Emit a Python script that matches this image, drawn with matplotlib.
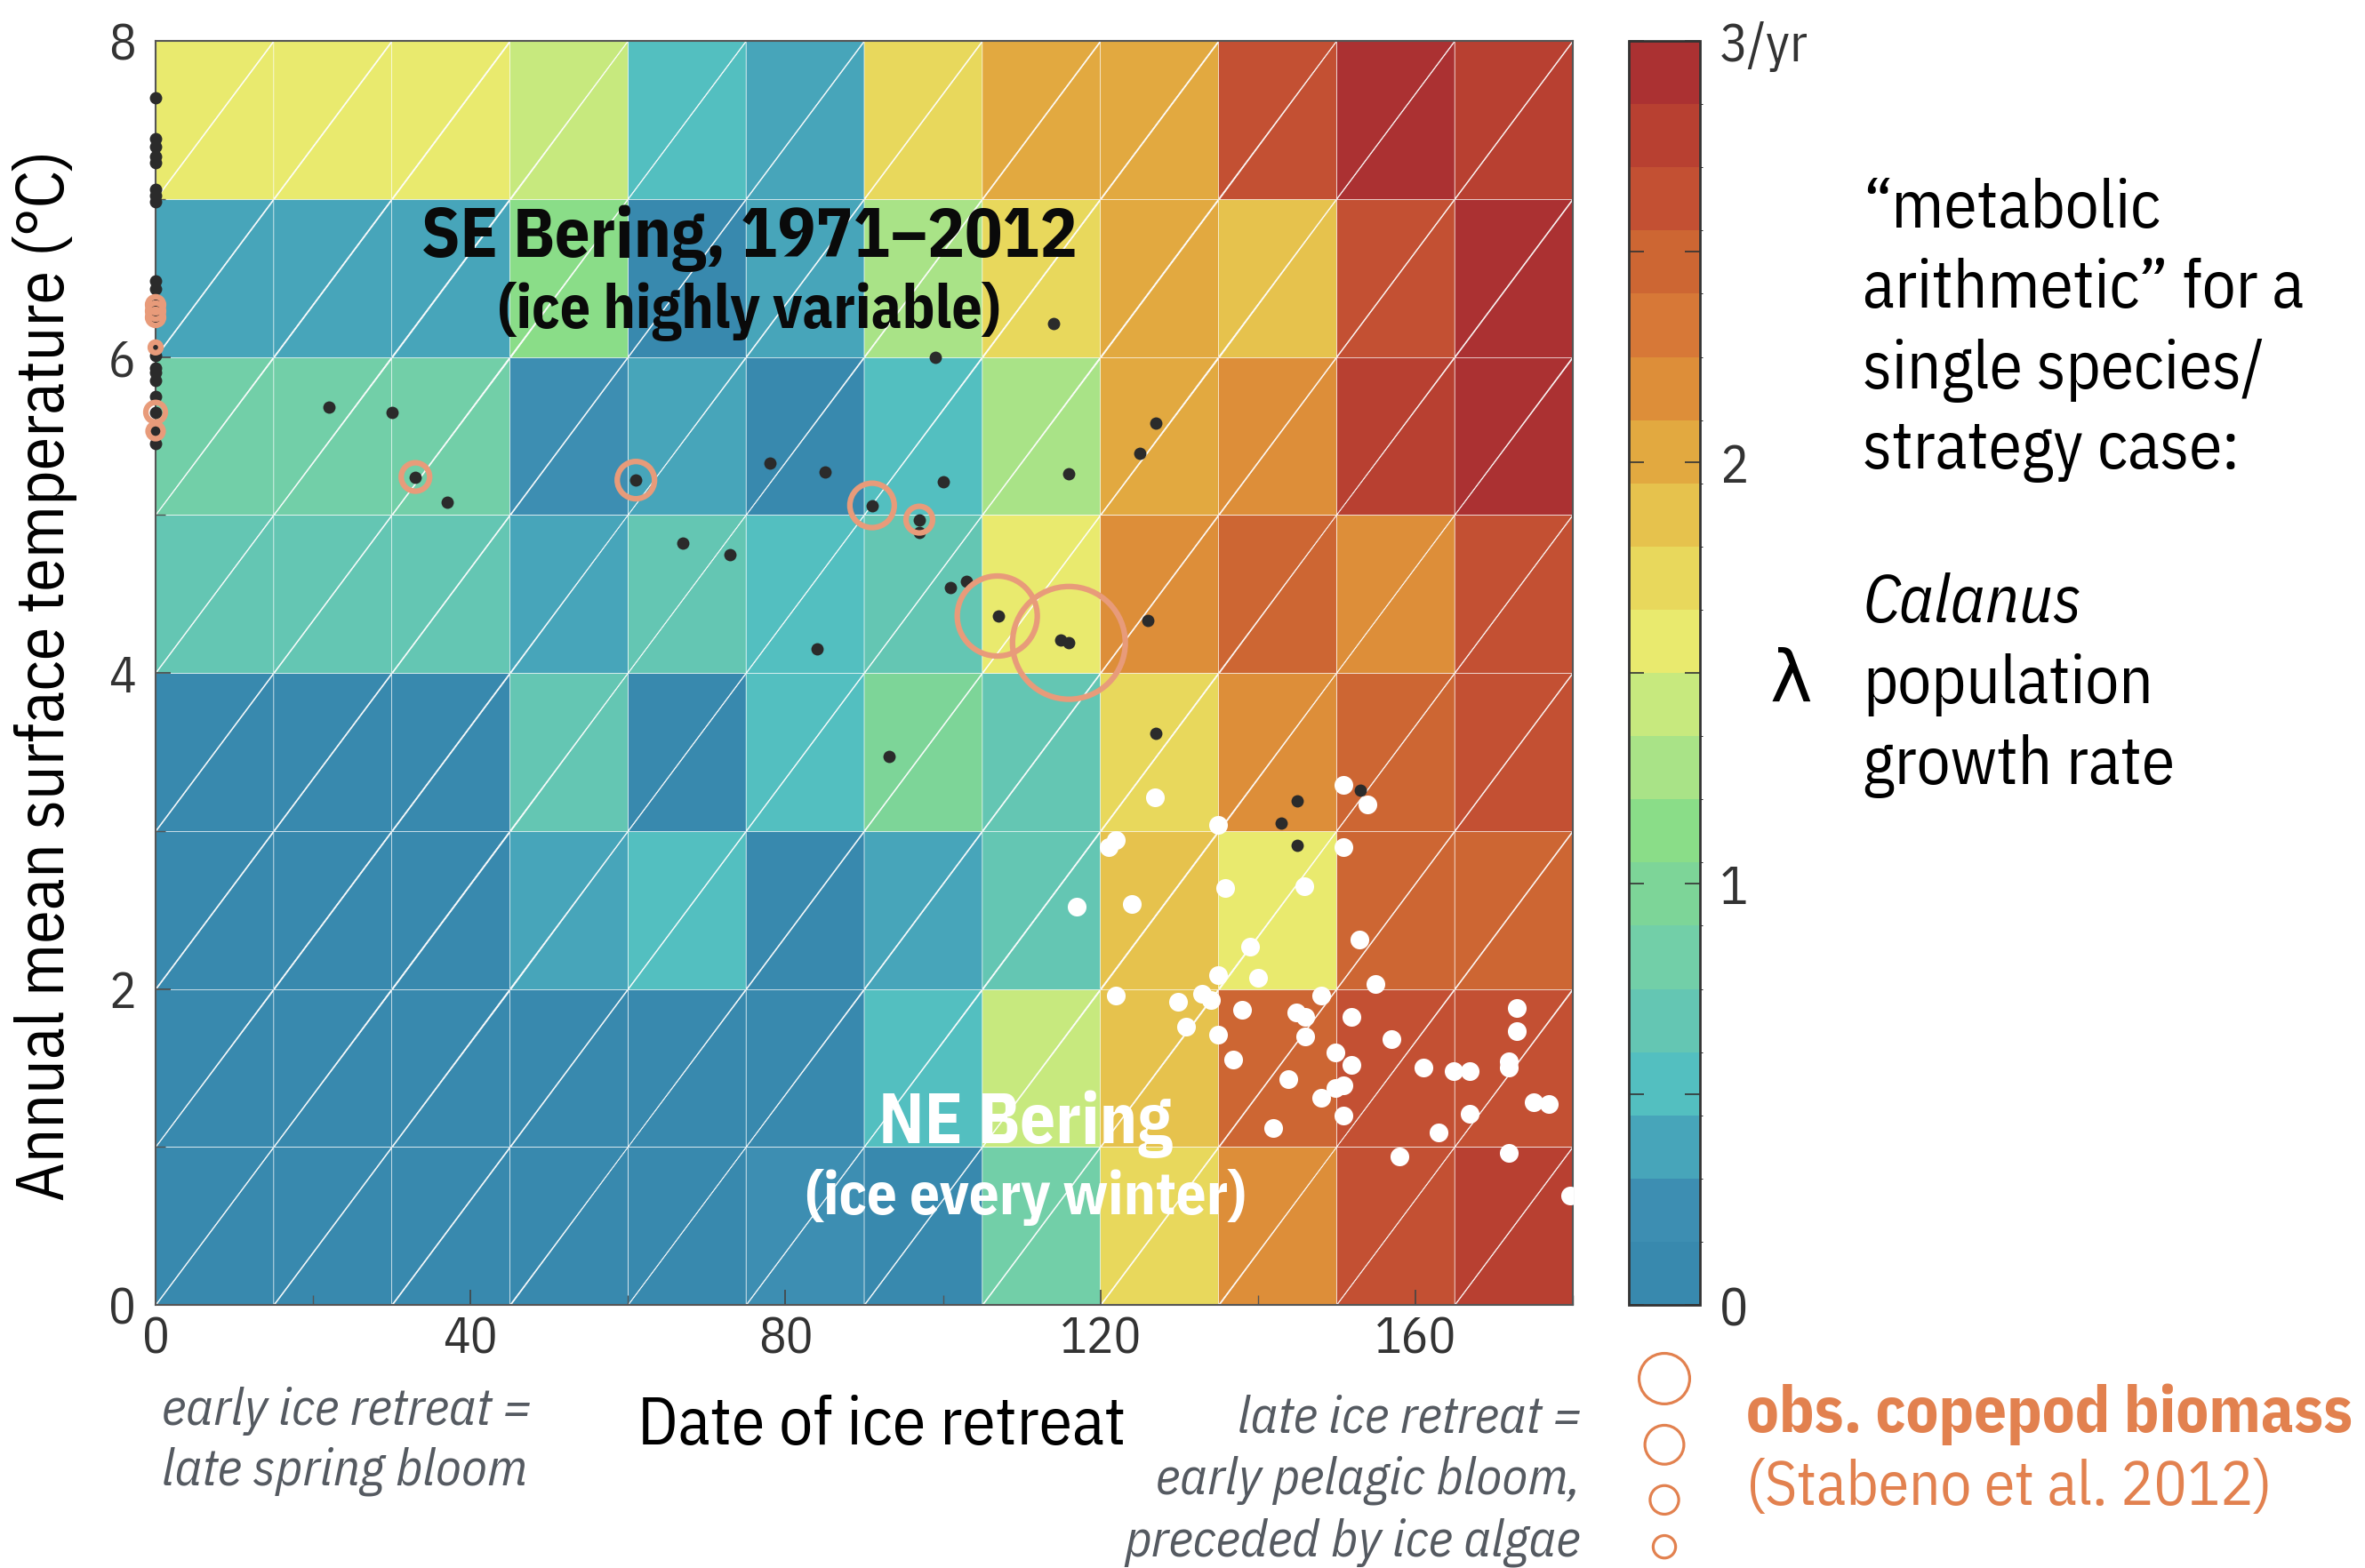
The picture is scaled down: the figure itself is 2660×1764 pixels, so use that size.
import numpy as np
import matplotlib
matplotlib.use("Agg")
import matplotlib.pyplot as plt
import matplotlib.tri as mtri
from matplotlib.colors import ListedColormap, BoundaryNorm
from matplotlib import font_manager as fm

# ---- data ---------------------------------------------------------------
# model growth rate lambda (per yr), rows = temperature bins 0-1 ... 7-8 degC,
# columns = date of ice retreat bins of 15 days (0-15 ... 165-180)
retreat_edges = np.arange(0, 181, 15)
temp_edges = np.arange(0, 9, 1)
lam = np.array([
    [0.08, 0.08, 0.08, 0.08, 0.08, 0.22, 0.08, 0.83, 1.73, 2.18, 2.63, 2.78],
    [0.08, 0.08, 0.08, 0.08, 0.08, 0.08, 0.53, 1.43, 1.88, 2.48, 2.63, 2.63],
    [0.08, 0.08, 0.08, 0.38, 0.53, 0.08, 0.38, 0.68, 1.88, 1.58, 2.48, 2.48],
    [0.08, 0.08, 0.08, 0.68, 0.08, 0.53, 0.98, 0.68, 1.73, 2.18, 2.48, 2.63],
    [0.68, 0.68, 0.68, 0.38, 0.68, 0.53, 0.68, 1.58, 2.18, 2.48, 2.18, 2.63],
    [0.83, 0.83, 0.83, 0.22, 0.38, 0.08, 0.53, 1.28, 2.03, 2.18, 2.78, 2.93],
    [0.38, 0.38, 0.38, 1.13, 0.08, 0.38, 1.28, 1.73, 2.03, 1.88, 2.63, 2.93],
    [1.58, 1.58, 1.58, 1.43, 0.53, 0.38, 1.73, 2.03, 2.03, 2.63, 2.93, 2.78],
])

# SE Bering years (black)
se_x = [0] * 22 + [22.0, 30.0, 33.0, 37.0, 61.0, 67.0, 73.0, 78.0, 85.0, 84.0,
                   91.0, 97.0, 97.0, 99.0, 100.0, 101.0, 103.0, 107.0, 114.0,
                   115.0, 116.0, 116.0, 125.0, 127.0, 126.0, 93.2, 127.0,
                   143.0, 145.0, 145.0, 153.0]
se_y = [7.64, 7.38, 7.33, 7.27, 7.23, 7.06, 7.02, 6.98, 6.48, 6.43, 6.33, 6.29,
        6.25, 6.06, 6.01, 5.93, 5.90, 5.85, 5.75, 5.65, 5.53, 5.45,
        5.68, 5.65, 5.24, 5.08, 5.22, 4.82, 4.75, 5.33, 5.27, 4.15,
        5.06, 4.97, 4.89, 6.00, 5.21, 4.54, 4.58, 4.36, 6.21,
        4.21, 4.19, 5.26, 5.39, 5.58, 4.33, 3.47, 3.62,
        3.05, 3.19, 2.91, 3.26]

# NE Bering (white)
ne_x = [150.9, 153.9, 126.9, 134.9, 122.0, 121.0, 150.9, 135.9, 145.9, 117.0,
        124.0, 152.9, 139.0, 134.9, 140.0, 154.9, 122.0, 129.9, 132.9, 134.0,
        148.0, 138.0, 144.9, 146.0, 151.9, 172.9, 172.9, 130.9, 134.9, 146.0,
        157.0, 136.9, 149.9, 151.9, 171.9, 171.9, 161.0, 164.9, 166.9, 143.9,
        149.9, 150.9, 148.0, 166.9, 150.9, 175.0, 177.0, 142.0, 163.0, 158.0,
        171.9, 179.7]
ne_y = [3.29, 3.17, 3.21, 3.04, 2.94, 2.90, 2.90, 2.64, 2.65, 2.52,
        2.54, 2.31, 2.27, 2.09, 2.07, 2.03, 1.96, 1.92, 1.97, 1.93,
        1.96, 1.87, 1.85, 1.82, 1.82, 1.88, 1.73, 1.76, 1.71, 1.70,
        1.68, 1.55, 1.60, 1.52, 1.54, 1.50, 1.50, 1.48, 1.48, 1.43,
        1.37, 1.39, 1.31, 1.21, 1.20, 1.28, 1.27, 1.12, 1.09, 0.94,
        0.96, 0.69]

# observed copepod biomass (Stabeno et al. 2012), relative units
obs_x = [0, 0, 0, 0, 0, 0, 33.0, 61.0, 91.0, 97.0, 106.9, 116.0]
obs_y = [6.33, 6.29, 6.25, 6.06, 5.65, 5.53, 5.24, 5.22, 5.06, 4.97, 4.36, 4.19]
obs_biomass = [0.81, 0.81, 0.81, 0.36, 1.21, 0.72, 2.56, 4.41, 6.25, 2.25, 20.3, 40.3]
legend_biomass = [8.1, 4.8, 2.6, 1.6]

band_colors = ["#3889AE", "#3D8EB2", "#47A5BA", "#53BFC0", "#64C6B3",
               "#72CFA8", "#7DD598", "#8ADD88", "#A9E387", "#C7E97E",
               "#E9EA6E", "#E8D85C", "#E6C24D", "#E2A940", "#DD8E39",
               "#D77837", "#CD6633", "#C35033", "#B84031", "#AB3132"]

# ---- fonts --------------------------------------------------------------
avail = {f.name for f in fm.fontManager.ttflist}
cands = ["IBM Plex Sans Condensed", "Fira Sans Condensed", "Roboto Condensed",
         "Barlow Semi Condensed"]
narrow = next((n for n in cands if n in avail), "DejaVu Sans")
plt.rcParams["font.family"] = [narrow, "DejaVu Sans"]

# ---- figure -------------------------------------------------------------
W, H = 2660, 1765
fig = plt.figure(figsize=(W / 100, H / 100), dpi=100)
ax = fig.add_axes([175 / W, 1 - 1469 / H, 1594 / W, 1422 / H])
cax = fig.add_axes([1832 / W, 1 - 1469 / H, 80 / W, 1422 / H])
rend = fig.canvas.get_renderer()


def fit(t, target, use_height=False):
    bb = t.get_window_extent(rend)
    cur = bb.height if use_height else bb.width
    t.set_fontsize(t.get_fontsize() * target / cur)
    return t


# font size for tick labels: "160" is ~92 px wide in the reference
probe = fig.text(0, 0, "160", fontsize=40)
tick_fs = 40 * 92 / probe.get_window_extent(rend).width
probe.remove()

cmap = ListedColormap(band_colors)
levels = np.linspace(0, 3, len(band_colors) + 1)
norm = BoundaryNorm(levels, cmap.N)

# two triangles per cell -> faint diagonal mesh lines like the original
X, Y = np.meshgrid(retreat_edges, temp_edges)
nx = len(retreat_edges)
tris, face = [], []
for j in range(len(temp_edges) - 1):
    for i in range(nx - 1):
        bl = j * nx + i
        br, tl = bl + 1, bl + nx
        tr = tl + 1
        tris += [[bl, br, tr], [bl, tr, tl]]
        face += [lam[j, i], lam[j, i]]
tri = mtri.Triangulation(X.ravel(), Y.ravel(), np.array(tris))
ax.tripcolor(tri, facecolors=np.array(face), cmap=cmap, norm=norm,
             edgecolors="#ffffff0f", linewidth=0.5)

ax.scatter(se_x, se_y, s=100, color="#2b2b2b", lw=0, zorder=3, clip_on=False)
ax.scatter(ne_x, ne_y, s=230, color="white", lw=0, zorder=3)
ax.scatter(obs_x, obs_y, s=np.array(obs_biomass) * 207, facecolors="none",
           edgecolors="#E89B7A", linewidths=4.5, zorder=4, clip_on=False)

ax.set_xlim(0, 180)
ax.set_ylim(0, 8)
ax.set_xticks([0, 40, 80, 120, 160])
ax.set_xticks(range(0, 181, 20), minor=True)
ax.set_yticks([0, 2, 4, 6, 8])
ax.set_yticks(range(9), minor=True)
ax.tick_params(axis="both", direction="in", length=12, width=1.2, color="#444",
               labelsize=tick_fs, labelcolor="#333")
ax.tick_params(axis="y", pad=16)
ax.tick_params(axis="x", pad=8)
ax.tick_params(which="minor", direction="in", length=8, width=1.0, color="#555")
for sp in ax.spines.values():
    sp.set_color("#555")
    sp.set_linewidth(1.5)

# region labels (baseline positions)
fit(ax.text(75.4, 6.64, "SE Bering, 1971–2012", ha="center", va="baseline",
            fontsize=50, fontweight="bold", color="#0a0a0a", zorder=5), 738)
fit(ax.text(75.4, 6.19, "(ice highly variable)", ha="center", va="baseline",
            fontsize=40, fontweight="bold", color="#0a0a0a", zorder=5), 565)
fit(ax.text(110.5, 1.03, "NE Bering", ha="center", va="baseline",
            fontsize=50, fontweight="bold", color="white", zorder=5), 331)
fit(ax.text(110.5, 0.58, "(ice every winter)", ha="center", va="baseline",
            fontsize=40, fontweight="bold", color="white", zorder=5), 495)

# colorbar
sm = plt.cm.ScalarMappable(cmap=cmap, norm=norm)
cb = fig.colorbar(sm, cax=cax, ticks=np.arange(0, 3.01, 0.5))
cb.set_ticklabels(["0", "", "1", "", "2", "", "3/yr"])
cb.outline.set_color("#333")
cb.outline.set_linewidth(2)
cax.tick_params(direction="in", length=12, width=1.2, color="#333", left=True,
                right=True, labelsize=tick_fs * 1.05, labelcolor="#333", pad=16)

# overlay in pixel coords for the free text and legend
lax = fig.add_axes([0, 0, 1, 1])
lax.set_xlim(0, W)
lax.set_ylim(H, 0)
lax.axis("off")
lax.patch.set_alpha(0)

fit(lax.text(51, 760, "Annual mean surface temperature (°C)", rotation=90,
             ha="center", va="center", fontsize=50), 1182, use_height=True)
fit(lax.text(992, 1625, "Date of ice retreat", ha="center", va="baseline",
             fontsize=48), 548)

gray = "#555a61"
t = fit(lax.text(182, 1603, "early ice retreat =", ha="left", va="baseline",
                 fontsize=34, style="italic", color=gray), 416)
lax.text(182, 1671, "late spring bloom", ha="left", va="baseline",
         fontsize=t.get_fontsize(), style="italic", color=gray)
t = fit(lax.text(1778, 1751, "preceded by ice algae", ha="right", va="baseline",
                 fontsize=34, style="italic", color=gray), 514)
for s, yb in [("late ice retreat =", 1612), ("early pelagic bloom,", 1681)]:
    lax.text(1778, yb, s, ha="right", va="baseline", fontsize=t.get_fontsize(),
             style="italic", color=gray)

lax.text(2014, 767, "λ", ha="center", va="center", fontsize=58, family="DejaVu Sans")
t = fit(lax.text(2095, 346, "arithmetic” for a", ha="left", va="baseline",
                 fontsize=44), 497)
fs = t.get_fontsize()
for s, yb in [("“metabolic", 256), ("single species/", 437), ("strategy case:", 527),
              ("population", 791), ("growth rate", 882)]:
    lax.text(2095, yb, s, ha="left", va="baseline", fontsize=fs)
lax.text(2095, 700, "Calanus", ha="left", va="baseline", fontsize=fs, style="italic")

orange = "#E2814F"
ys, y = [], 1552 - 28.5
for b in legend_biomass:
    r = 10 * np.sqrt(b)
    ys.append(y + r)
    y += 2 * r + 24
lax.scatter([1872] * len(legend_biomass), ys, s=np.array(legend_biomass) * 207,
            facecolors="none", edgecolors=orange, linewidths=2.3)
fit(lax.text(1964, 1611, "obs. copepod biomass", ha="left", va="baseline",
             fontsize=46, fontweight="bold", color=orange), 682)
fit(lax.text(1964, 1693, "(Stabeno et al. 2012)", ha="left", va="baseline",
             fontsize=44, color=orange), 592)

fig.savefig("out.png", dpi=100)
